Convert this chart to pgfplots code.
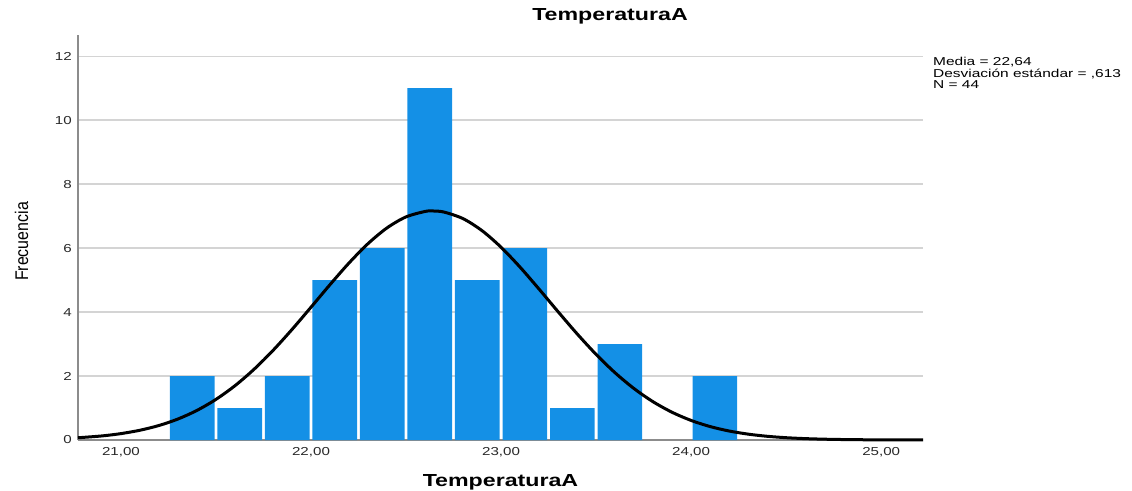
\documentclass[border=0pt]{standalone}
\usepackage{pgfplots}
\pgfplotsset{compat=1.18}
\usepackage{fontspec}
\setmainfont{Liberation Sans}
\definecolor{barblue}{RGB}{20,144,230}
\definecolor{axgray}{RGB}{140,140,140}
\definecolor{gridgray}{RGB}{212,212,212}
\definecolor{ticktext}{RGB}{40,40,40}
\newcommand{\tl}[1]{\scalebox{1.31}[1]{#1}}
\begin{document}
\begin{tikzpicture}
\path[use as bounding box] (-78bp,-51bp) rectangle (1054bp,440bp);
\begin{axis}[
  at={(0,0)}, anchor=south west,
  scale only axis, width=845bp, height=405bp,
  xmin=20.774, xmax=25.22, ymin=0, ymax=12.66,
  axis x line=bottom, axis y line=left,
  axis line style={-, draw=axgray, line width=1.3bp},
  major tick length=0pt,
  xtick={21,22,23,24,25},
  xticklabels={\tl{21,00},\tl{22,00},\tl{23,00},\tl{24,00},\tl{25,00}},
  ytick={0,2,4,6,8,10,12},
  yticklabels={\tl{0},\tl{2},\tl{4},\tl{6},\tl{8},\tl{10},\tl{12}},
  x tick label style={font=\fontsize{11.6}{12}\selectfont, text=ticktext, anchor=center, yshift=-12.4bp, inner sep=0pt},
  y tick label style={font=\fontsize{11.6}{12}\selectfont, text=ticktext, anchor=east, xshift=-6bp, inner sep=0pt},
  ymajorgrids, grid style={draw=gridgray, line width=1.2bp},
  title={\scalebox{1.33}[1]{\bfseries TemperaturaA}},
  title style={font=\fontsize{17.5}{18}\selectfont, at={(0.6296,1)}, anchor=center, yshift=13bp, inner sep=0pt},
  xlabel={\scalebox{1.33}[1]{\bfseries TemperaturaA}},
  xlabel style={font=\fontsize{17.5}{18}\selectfont, at={(0.5,0)}, anchor=center, yshift=-42.5bp, inner sep=0pt},
  ylabel={\scalebox{1}[1.15]{Frecuencia}},
  ylabel style={font=\fontsize{16}{16}\selectfont, at={(0,0.49)}, anchor=center, yshift=56.5bp, inner sep=0pt},
  clip=false,
]
\addplot[ybar, bar width=0.235, bar shift=0pt, fill=barblue, draw=none] coordinates {
 (21.375,2) (21.625,1) (21.875,2) (22.125,5) (22.375,6) (22.625,11)
 (22.875,5) (23.125,6) (23.375,1) (23.625,3) (24.125,2)
};
\addplot[black, line width=3bp, smooth, mark=none] coordinates {
 (20.774,0.0700) (20.9,0.1274) (21.0,0.1998) (21.1,0.3051) (21.2,0.4535)
 (21.3,0.6563) (21.4,0.9253) (21.5,1.2703) (21.6,1.6975) (21.7,2.2092)
 (21.8,2.7995) (21.9,3.4549) (22.0,4.1511) (22.1,4.8569) (22.2,5.5334)
 (22.3,6.1384) (22.4,6.6309) (22.5,6.9747) (22.6,7.1438) (22.64,7.159)
 (22.7,7.1248) (22.8,6.9192) (22.9,6.5432) (23.0,6.0250) (23.1,5.4023)
 (23.2,4.7164) (23.3,4.0098) (23.4,3.3195) (23.5,2.6758) (23.6,2.1003)
 (23.7,1.6052) (23.8,1.1948) (23.9,0.8658) (24.0,0.6110) (24.1,0.4197)
 (24.2,0.2809) (24.3,0.1830) (24.4,0.1161) (24.5,0.0717) (24.6,0.0432)
 (24.7,0.0253) (24.8,0.0144) (24.9,0.0080) (25.0,0.0043) (25.22,0.0011)
};
\node[anchor=north west, inner sep=0pt, align=left] at (rel axis cs:1.0118,0.9457)
 {\scalebox{1.35}[1]{\fontsize{11.5}{10.5}\selectfont\begin{tabular}{@{}l@{}}Media = 22,64\\ Desviación estándar = ,613\\ N = 44\end{tabular}}};
\end{axis}
\end{tikzpicture}
\end{document}
